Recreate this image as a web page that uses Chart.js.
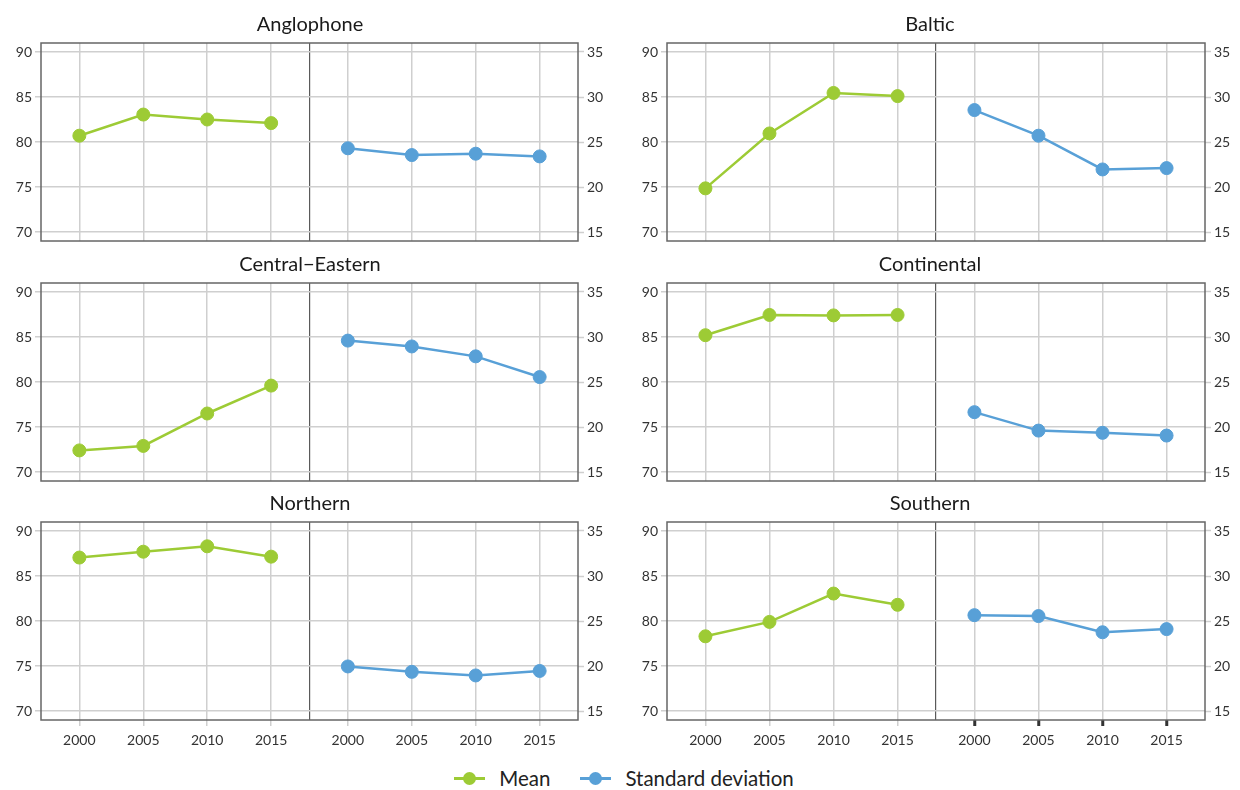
<!DOCTYPE html>
<html>
<head>
<meta charset="utf-8">
<script src="https://cdn.jsdelivr.net/npm/chart.js@4.4.1/dist/chart.umd.min.js"></script>
<style>
  body { margin: 0; width: 1240px; height: 790px; overflow: hidden; background: #fff; position: relative; font-family: Lato, sans-serif; }
  canvas { position: absolute; }
  #legend { position: absolute; left: 0; top: 766px; width: 1240px; display: flex; justify-content: center; align-items: center; font-size: 20.5px; color: #222; padding-left: 4px; }
  .item { display: flex; align-items: center; margin: 0 15px; }
  .mark { position: relative; width: 31px; height: 3px; margin-right: 14px; }
  .mark i { position: absolute; left: 9px; top: -5px; width: 13px; height: 13px; border-radius: 50%; }
</style>
</head>
<body>
<div id="legend">
  <div class="item"><span class="mark" style="background:#9dcb35"><i style="background:#9dcb35"></i></span>Mean</div>
  <div class="item"><span class="mark" style="background:#58a0d7"><i style="background:#58a0d7"></i></span>Standard deviation</div>
</div>
<script>
// data ------
const years = ['2000', '2005', '2010', '2015'];
const regions = ['Anglophone', 'Baltic', 'Central\u2212Eastern', 'Continental', 'Northern', 'Southern'];
const meanTicks = [70, 75, 80, 85, 90];
const sdTicks = [15, 20, 25, 30, 35];

const anglophoneMean = [80.7, 83.05, 82.5, 82.1];
const anglophoneSD = [24.3, 23.55, 23.7, 23.4];
const balticMean = [74.85, 80.95, 85.45, 85.1];
const balticSD = [28.55, 25.7, 21.95, 22.1];
const centralMean = [72.4, 72.9, 76.5, 79.6];
const centralSD = [29.6, 28.95, 27.85, 25.55];
const continentalMean = [85.2, 87.45, 87.4, 87.45];
const continentalSD = [21.65, 19.6, 19.35, 19.05];
const northernMean = [87.05, 87.7, 88.3, 87.15];
const northernSD = [19.95, 19.35, 18.95, 19.45];
const southernMean = [78.3, 79.9, 83.05, 81.8];
const southernSD = [25.65, 25.55, 23.75, 24.1];

const meanSets = [anglophoneMean, balticMean, centralMean, continentalMean, northernMean, southernMean];
const sdSets = [anglophoneSD, balticSD, centralSD, continentalSD, northernSD, southernSD];

const green = '#9dcb35';
const blue = '#58a0d7';
const gridCol = '#cfcfcf';
const darkCol = '#5a5a5a';
const gap = 4.2; // offset of the SD block on the x scale
const divider = 3.6;

// frame round the plot area
const framePlugin = {
	id: 'frame',
	afterDatasetsDraw(chart) {
		const a = chart.chartArea;
		const c = chart.ctx;
		c.save();
		c.strokeStyle = '#666';
		c.lineWidth = 1.5;
		c.strokeRect(a.left, a.top, a.right - a.left, a.bottom - a.top);
		c.restore();
	}
};

const rowTop = [0, 240, 479];

regions.forEach((name, i) => {
	const col = i % 2;
	const row = Math.floor(i / 2);
	const last = row === 2;
	const southern = name === 'Southern';

	const cv = document.createElement('canvas');
	cv.width = 620;
	cv.height = last ? 271 : 253;
	cv.style.left = (col * 620) + 'px';
	cv.style.top = rowTop[row] + 'px';
	document.body.appendChild(cv);

	const meanPts = meanSets[i].map((v, k) => ({ x: k, y: v }));
	const sdPts = sdSets[i].map((v, k) => ({ x: gap + k, y: v }));

	new Chart(cv.getContext('2d'), {
		type: 'line',
		data: {
			datasets: [
				{
					label: 'Mean',
					yAxisID: 'y',
					data: meanPts,
					borderColor: green,
					backgroundColor: green,
					borderWidth: 2.5,
					pointRadius: 6.5,
					pointBorderWidth: 1,
				},
				{
					label: 'Standard deviation',
					yAxisID: 'y2',
					data: sdPts,
					borderColor: blue,
					backgroundColor: blue,
					borderWidth: 2.5,
					pointRadius: 6.5,
					pointBorderWidth: 1,
				},
			],
		},
		options: {
			responsive: false,
			animation: false,
			layout: { padding: 0 },
			plugins: {
				legend: { display: false },
				tooltip: { enabled: false },
				title: {
					display: true,
					text: name,
					color: '#1a1a1a',
					font: { family: 'Lato', size: 20, weight: 'normal', lineHeight: 1.2 },
					padding: { top: 13, bottom: 6 },
				},
			},
			scales: {
				x: {
					type: 'linear',
					min: -0.6,
					max: gap + 3.6,
					afterBuildTicks: (s) => {
						s.ticks = [0, 1, 2, 3, divider, gap, gap + 1, gap + 2, gap + 3].map((v) => ({ value: v }));
					},
					afterFit: (s) => { s.height = last ? 30 : 12; },
					ticks: {
						display: last,
						autoSkip: false,
						maxRotation: 0,
						padding: 6,
						color: '#333',
						font: { family: 'Lato', size: 14 },
						callback: (v) => {
							if (v === divider) return '';
							return v < divider ? years[Math.round(v)] : years[Math.round(v - gap)];
						},
					},
					grid: {
						color: (ctx) => (ctx.tick && ctx.tick.value === divider ? darkCol : gridCol),
						lineWidth: (ctx) => (ctx.tick && ctx.tick.value === divider ? 1.2 : 1.5),
						drawTicks: last,
						tickLength: 6,
						tickColor: (ctx) => {
							if (!ctx.tick || ctx.tick.value === divider) return 'rgba(0,0,0,0)';
							return southern && ctx.tick.value >= gap ? '#333' : gridCol;
						},
						tickWidth: (ctx) => (southern && ctx.tick && ctx.tick.value >= gap ? 3 : 1.5),
					},
					border: { display: false },
				},
				y: {
					position: 'left',
					min: 69,
					max: 91,
					afterBuildTicks: (s) => { s.ticks = meanTicks.map((v) => ({ value: v })); },
					afterFit: (s) => { s.width = col === 0 ? 41 : 47; },
					ticks: { color: '#333', padding: 3, font: { family: 'Lato', size: 14 } },
					grid: { color: gridCol, lineWidth: 1.5, tickColor: gridCol, tickLength: 6, tickWidth: 1.5 },
					border: { display: false },
				},
				y2: {
					position: 'right',
					min: 14,
					max: 36,
					afterBuildTicks: (s) => { s.ticks = sdTicks.map((v) => ({ value: v })); },
					afterFit: (s) => { s.width = col === 0 ? 42 : 35; },
					ticks: { color: '#333', padding: 3, font: { family: 'Lato', size: 14 } },
					grid: { drawOnChartArea: false, tickColor: gridCol, tickLength: 6, tickWidth: 1.5 },
					border: { display: false },
				},
			},
		},
		plugins: [framePlugin],
	});
});
</script>
</body>
</html>
